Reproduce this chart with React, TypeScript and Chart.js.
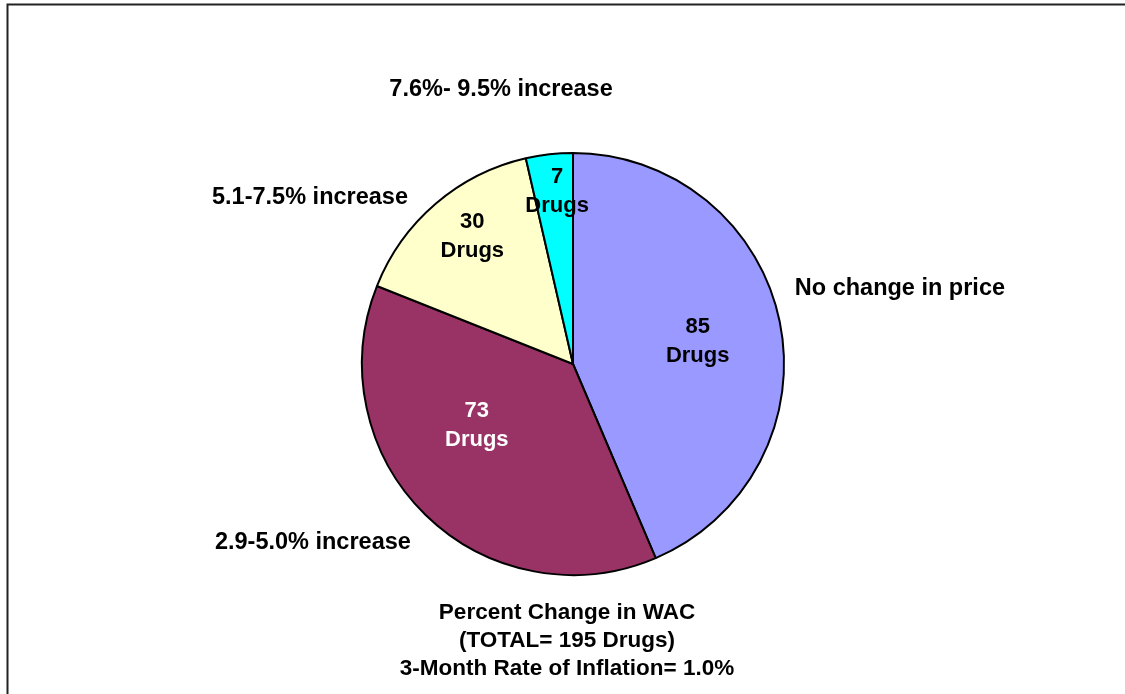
import React, { useEffect, useRef } from "react";
import { Chart, registerables } from "chart.js";

Chart.register(...registerables);

const categories = ["No change in price", "2.9-5.0% increase", "5.1-7.5% increase", "7.6%- 9.5% increase"];
const drugCounts = [85, 73, 30, 7];
const valueUnit = "Drugs";
const sliceColors = ["#9999FF", "#993366", "#FFFFCC", "#00FFFF"];
const valueLabelColors = ["#000000", "#FFFFFF", "#000000", "#000000"];
const titleLines = ["Percent Change in WAC", "(TOTAL= 195 Drugs)", "3-Month Rate of Inflation= 1.0%"];

// placement relative to each slice: [radius fraction, angle nudge in degrees]
const valueLabelPlacement: [number, number][] = [[0.6, 1.5], [0.54, 13.3], [0.77, 2.3], [0.82, 1.2]];
const categoryLabelPlacement: [number, number, CanvasTextAlign][] = [
  [1.11, -7.2, "left"],
  [1.494, 11.3, "center"],
  [1.476, -17, "center"],
  [1.347, -8.2, "center"],
];

const FONT = '"Liberation Sans", Arial, sans-serif';

const framePlugin = {
  id: "frame",
  beforeDraw(chart: any) {
    const { ctx, width, height } = chart;
    ctx.save();
    ctx.fillStyle = "#FFFFFF";
    ctx.fillRect(0, 0, width, height);
    ctx.strokeStyle = "#222222";
    ctx.lineWidth = 2;
    ctx.beginPath();
    ctx.moveTo(width, 4.5);
    ctx.lineTo(7.5, 4.5);
    ctx.lineTo(7.5, height);
    ctx.stroke();
    ctx.restore();
  },
};

const labelsPlugin = {
  id: "pieLabels",
  afterDatasetsDraw(chart: any) {
    const { ctx } = chart;
    const meta = chart.getDatasetMeta(0);
    ctx.save();
    ctx.textBaseline = "middle";
    meta.data.forEach((arc: any, i: number) => {
      const p = arc.getProps(["x", "y", "startAngle", "endAngle", "outerRadius"], true);
      const mid = (p.startAngle + p.endAngle) / 2;
      // value label
      const [vf, vd] = valueLabelPlacement[i];
      const va = mid + (vd * Math.PI) / 180;
      const vx = p.x + Math.cos(va) * p.outerRadius * vf;
      const vy = p.y + Math.sin(va) * p.outerRadius * vf;
      ctx.font = `bold 22px ${FONT}`;
      ctx.fillStyle = valueLabelColors[i];
      ctx.textAlign = "center";
      ctx.fillText(String(drugCounts[i]), vx, vy - 14.5);
      ctx.fillText(valueUnit, vx, vy + 14.5);
      // category label
      const [cf, cd, align] = categoryLabelPlacement[i];
      const ca = mid + (cd * Math.PI) / 180;
      const cx = p.x + Math.cos(ca) * p.outerRadius * cf;
      const cy = p.y + Math.sin(ca) * p.outerRadius * cf;
      ctx.font = `bold 23.5px ${FONT}`;
      ctx.fillStyle = "#000000";
      ctx.textAlign = align;
      ctx.fillText(categories[i], cx, cy);
    });
    // bottom title
    const area = chart.chartArea;
    const tx = (area.left + area.right) / 2 - 6;
    ctx.textAlign = "center";
    ctx.fillStyle = "#000000";
    ctx.font = `bold 22.5px ${FONT}`;
    titleLines.forEach((line, k) => {
      ctx.fillText(line, tx, area.bottom + 37 + k * 28);
    });
    ctx.restore();
  },
};

export default function App() {
  const canvasRef = useRef<HTMLCanvasElement | null>(null);

  useEffect(() => {
    const canvas = canvasRef.current;
    if (!canvas) return;
    const chart = new Chart(canvas, {
      type: "pie",
      data: {
        labels: categories,
        datasets: [
          {
            data: drugCounts,
            backgroundColor: sliceColors,
            borderColor: "#000000",
            borderWidth: 2,
          },
        ],
      },
      options: {
        responsive: false,
        animation: false,
        layout: { padding: { left: 100, right: 79, top: 152, bottom: 118 } },
        plugins: {
          legend: { display: false },
          tooltip: { enabled: false },
          title: { display: false },
        },
      },
      plugins: [framePlugin, labelsPlugin],
    });
    return () => chart.destroy();
  }, []);

  return (
    <div style={{ position: "fixed", left: 0, top: 0, width: 1125, height: 694, background: "#fff" }}>
      <canvas ref={canvasRef} width={1125} height={694} style={{ display: "block" }} />
    </div>
  );
}
